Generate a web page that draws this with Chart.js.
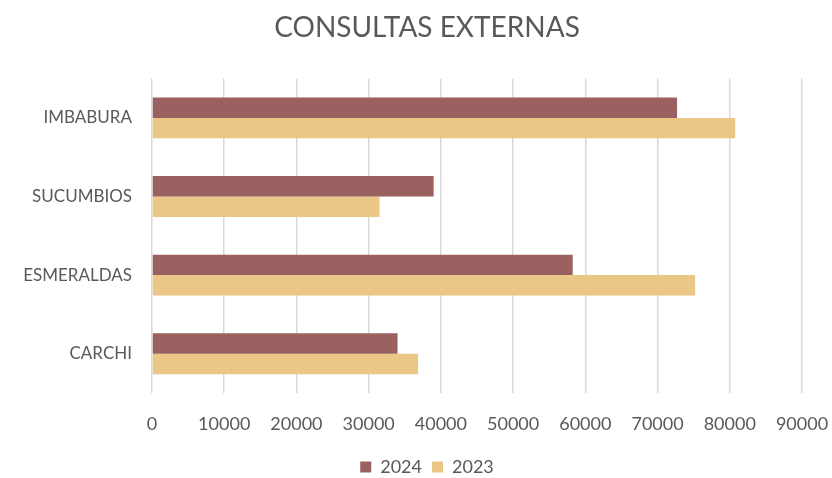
<!DOCTYPE html>
<html lang="es">
<head>
    <meta charset="UTF-8">
    <title>Consultas externas</title>
    <script src="https://cdn.jsdelivr.net/npm/chart.js"></script>
    <style>
        html, body { margin: 0; padding: 0; background: #fff; }
        #wrap { width: 832px; height: 478px; }
    </style>
</head>
<body>
    <div id="wrap"><canvas id="consultasChart" width="832" height="478"></canvas></div>

    <script>
        // Datos por provincia
        const provincias = ['IMBABURA', 'SUCUMBIOS', 'ESMERALDAS', 'CARCHI'];
        const valores2024 = [72700, 39000, 58250, 34000];
        const valores2023 = [80750, 31500, 75200, 36850];
        const ticksX = [0, 10000, 20000, 30000, 40000, 50000, 60000, 70000, 80000, 90000];

        const gris = '#595959';
        const fuente = 'Lato, "Open Sans", sans-serif';

        const ctx = document.getElementById('consultasChart').getContext('2d');
        new Chart(ctx, {
            type: 'bar',
            data: {
                labels: provincias,
                datasets: [{
                    label: '2024',
                    data: valores2024,
                    backgroundColor: '#9B6060',
                    categoryPercentage: 0.52,
                    barPercentage: 1.0
                }, {
                    label: '2023',
                    data: valores2023,
                    backgroundColor: '#EAC687',
                    categoryPercentage: 0.52,
                    barPercentage: 1.0
                }]
            },
            options: {
                indexAxis: 'y',
                responsive: false,
                animation: false,
                layout: { padding: { left: 22, right: 0, top: 0, bottom: -8 } },
                plugins: {
                    title: {
                        display: true,
                        text: 'CONSULTAS EXTERNAS',
                        color: gris,
                        font: { family: fuente, size: 28, weight: 'normal' },
                        padding: { top: 11, bottom: 34 }
                    },
                    legend: {
                        position: 'bottom',
                        labels: {
                            color: gris,
                            font: { family: fuente, size: 18 },
                            boxWidth: 11,
                            boxHeight: 11,
                            padding: 10
                        }
                    },
                    tooltip: { enabled: false }
                },
                scales: {
                    x: {
                        min: 0,
                        max: 90000,
                        afterBuildTicks: (axis) => {
                            axis.ticks = ticksX.map(v => ({ value: v }));
                        },
                        afterFit: (axis) => {
                            axis.height = 55;
                            axis.paddingRight = 30;
                        },
                        grid: {
                            color: '#D9D9D9',
                            lineWidth: 1.5,
                            drawTicks: false
                        },
                        border: { display: false },
                        ticks: {
                            color: gris,
                            font: { family: fuente, size: 18 },
                            padding: 20,
                            maxRotation: 0,
                            callback: (v) => String(v)
                        }
                    },
                    y: {
                        afterFit: (axis) => { axis.width = 130; },
                        grid: { display: false, drawTicks: false },
                        border: { display: false },
                        ticks: {
                            color: gris,
                            font: { family: fuente, size: 17 },
                            padding: 20
                        }
                    }
                }
            }
        });
    </script>
</body>
</html>
